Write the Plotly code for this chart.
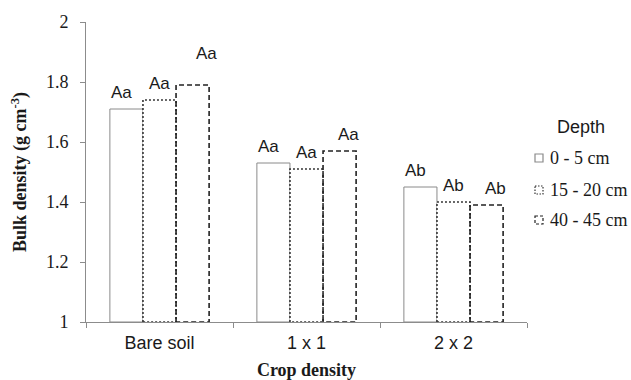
import plotly.graph_objects as go

categories = ["Bare soil", "1 x 1", "2 x 2"]
depths = ["0 - 5 cm", "15 - 20 cm", "40 - 45 cm"]
depth_0_5 = [1.71, 1.53, 1.45]
depth_15_20 = [1.74, 1.51, 1.40]
depth_40_45 = [1.79, 1.57, 1.39]
letters_0_5 = ["Aa", "Aa", "Ab"]
letters_15_20 = ["Aa", "Aa", "Ab"]
letters_40_45 = ["Aa", "Aa", "Ab"]

series = [depth_0_5, depth_15_20, depth_40_45]
letters = [letters_0_5, letters_15_20, letters_40_45]

SERIF = "Liberation Serif"
SANS = "Liberation Sans"
TXT = "#1a1a1a"

BASE = 1.0
W = 0.225
xpos = list(range(len(categories)))
offsets = [-1.5 * W, -0.5 * W, 0.5 * W]
line_styles = [
    dict(color="#8a8a8a", width=1, dash="solid"),
    dict(color="#333333", width=1.6, dash="2px,2px"),
    dict(color="#222222", width=1.6, dash="5px,3px"),
]

fig = go.Figure()

# white bar bodies
for i, vals in enumerate(series):
    fig.add_trace(go.Bar(
        x=xpos, y=[v - BASE for v in vals], base=BASE,
        width=W, offset=offsets[i],
        marker=dict(color="white",
                    line=dict(color=line_styles[0]["color"], width=1 if i == 0 else 0)),
        name=depths[i], showlegend=False, hoverinfo="skip",
    ))

# dotted / dashed outlines of the bars
for i, vals in enumerate(series):
    if i == 0:
        continue
    xs, ys = [], []
    for c, v in zip(xpos, vals):
        x0 = c + offsets[i]
        x1 = x0 + W
        xs += [x0, x0, x1, x1, x0, None]
        ys += [BASE, v, v, BASE, BASE, None]
    fig.add_trace(go.Scatter(
        x=xs, y=ys, mode="lines", line=line_styles[i],
        showlegend=False, hoverinfo="skip",
    ))

# significance letters
annots = []
for i, vals in enumerate(series):
    for j, v in enumerate(vals):
        xshift = [-5, 0, 9][i]
        yshift = 17
        if i == 2 and j == 0:
            xshift, yshift = 14, 32
        annots.append(dict(
            x=xpos[j] + offsets[i] + W / 2, y=v, xref="x", yref="y",
            text=letters[i][j], showarrow=False,
            xshift=xshift, yshift=yshift, yanchor="middle",
            font=dict(family=SANS, size=17, color=TXT),
        ))

# custom legend (square swatches with matching outline styles)
PLOT_L, PLOT_W, PLOT_T, PLOT_H = 86, 441, 22, 300
def px_x(p):
    return (p - PLOT_L) / PLOT_W
def px_y(p):
    return (PLOT_T + PLOT_H - p) / PLOT_H

annots.append(dict(
    x=px_x(581), y=px_y(127), xref="paper", yref="paper", text="Depth",
    showarrow=False, xanchor="center", yanchor="middle",
    font=dict(family=SANS, size=18, color=TXT),
))
shapes = []
row_y = [158, 190, 220]
for i, name in enumerate(depths):
    annots.append(dict(
        x=px_x(548), y=px_y(row_y[i]), xref="paper", yref="paper", text=name,
        showarrow=False, xanchor="left", yanchor="middle",
        font=dict(family=SERIF, size=18, color=TXT),
    ))
    ls = dict(line_styles[i])
    ls["width"] = 1.2
    if i == 1:
        ls["dash"] = "1.5px,1.5px"
    if i == 2:
        ls["dash"] = "3px,2px"
    shapes.append(dict(
        type="rect", xref="paper", yref="paper",
        x0=px_x(535), x1=px_x(543), y0=px_y(row_y[i] - 4), y1=px_y(row_y[i] + 4),
        line=ls, fillcolor="white",
    ))

axis_gray = "#8c8c8c"
fig.update_layout(
    width=631, height=380,
    margin=dict(l=86, r=104, t=22, b=58, autoexpand=False),
    paper_bgcolor="white", plot_bgcolor="white",
    barmode="overlay",
    annotations=annots, shapes=shapes,
    showlegend=False,
    hovermode=False,
    font=dict(family=SERIF, color=TXT),
    xaxis=dict(
        range=[-0.5, 2.5], tickvals=xpos, ticktext=categories,
        ticks="", showline=True, linecolor=axis_gray, linewidth=1,
        showgrid=False, zeroline=False, automargin=False,
        minor=dict(tickvals=[-0.5, 0.5, 1.5, 2.5], ticks="outside", ticklen=5,
                   tickcolor=axis_gray, showgrid=False),
        tickfont=dict(family=SANS, size=18, color=TXT),
        ticklabelstandoff=4,
        title=dict(text="<b>Crop density</b>", standoff=11,
                   font=dict(family=SERIF, size=18, color=TXT)),
    ),
    yaxis=dict(
        range=[1, 2], dtick=0.2, tick0=1,
        ticks="outside", ticklen=5, tickcolor=axis_gray,
        showline=True, linecolor=axis_gray, linewidth=1,
        showgrid=False, zeroline=False, automargin=False,
        tickfont=dict(family=SERIF, size=18, color=TXT),
        ticklabelstandoff=8,
        title=dict(text="<b>Bulk density (g cm<sup>-3</sup>)</b>", standoff=14,
                   font=dict(family=SERIF, size=18, color=TXT)),
    ),
)

fig.write_html(
    "out.html",
    config={"displayModeBar": False, "staticPlot": True},
    post_script="document.body.style.margin='0';document.body.style.overflow='hidden';",
)
